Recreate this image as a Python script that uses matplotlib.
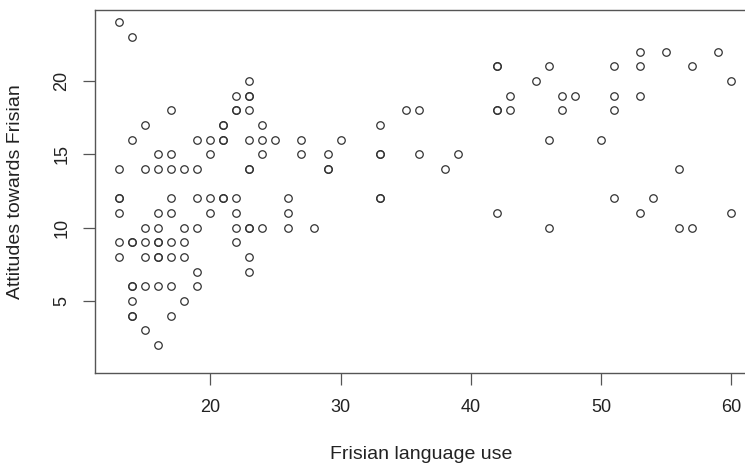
import matplotlib
matplotlib.use("Agg")
import matplotlib.pyplot as plt

# Frisian language use (x) vs attitudes towards Frisian (y)
language_use = [
    13, 13, 13, 13, 13, 13, 13,
    14, 14, 14, 14, 14, 14, 14, 14, 14,
    15, 15, 15, 15, 15, 15, 15,
    16, 16, 16, 16, 16, 16, 16, 16, 16, 16,
    17, 17, 17, 17, 17, 17, 17, 17, 17,
    18, 18, 18, 18, 18,
    19, 19, 19, 19, 19, 19,
    20, 20, 20, 20,
    21, 21, 21, 21, 21, 21,
    22, 22, 22, 22, 22, 22, 22,
    23, 23, 23, 23, 23, 23, 23, 23, 23, 23, 23,
    24, 24, 24, 24,
    25,
    26, 26, 26,
    27, 27,
    28,
    29, 29, 29,
    30,
    33, 33, 33, 33, 33,
    35,
    36, 36,
    38,
    39,
    42, 42, 42, 42, 42,
    43, 43,
    45,
    46, 46, 46,
    47, 47,
    48,
    50,
    51, 51, 51, 51,
    53, 53, 53, 53,
    54,
    55,
    56, 56,
    57, 57,
    59,
    60, 60,
]
attitudes = [
    24, 14, 12, 12, 11, 9, 8,
    23, 16, 9, 9, 6, 6, 5, 4, 4,
    17, 14, 10, 9, 8, 6, 3,
    15, 14, 11, 10, 9, 9, 8, 8, 6, 2,
    18, 15, 14, 12, 11, 9, 8, 6, 4,
    14, 10, 9, 8, 5,
    16, 14, 12, 10, 7, 6,
    16, 15, 12, 11,
    17, 17, 16, 16, 12, 12,
    19, 18, 18, 12, 11, 10, 9,
    20, 19, 19, 18, 16, 14, 14, 10, 10, 8, 7,
    17, 16, 15, 10,
    16,
    12, 11, 10,
    16, 15,
    10,
    15, 14, 14,
    16,
    17, 15, 15, 12, 12,
    18,
    18, 15,
    14,
    15,
    21, 21, 18, 18, 11,
    19, 18,
    20,
    21, 16, 10,
    19, 18,
    19,
    16,
    21, 19, 18, 12,
    22, 21, 19, 11,
    12,
    22,
    14, 10,
    21, 10,
    22,
    20, 11,
]

x_ticks = [20, 30, 40, 50, 60]
y_ticks = [5, 10, 15, 20]

plt.rcParams.update({
    "font.family": ["Liberation Sans", "DejaVu Sans"],
    "font.size": 14,
})

fig = plt.figure(figsize=(7.45, 4.67), dpi=100)
# axes box runs a little past the right edge, like the cropped original
ax = fig.add_axes([94.5 / 745, 94.3 / 467, 661.5 / 745, 362.4 / 467])

ax.plot(language_use, attitudes, linestyle="none", marker="o",
        markersize=5.4, markerfacecolor="none", markeredgecolor="#333333",
        markeredgewidth=0.9)

ax.set_xlim(11.12, 61.88)
ax.set_ylim(0.12, 24.82)
ax.set_xticks(x_ticks)
ax.set_yticks(y_ticks)
ax.tick_params(direction="out", length=8.5, width=0.9, color="#555555",
               labelcolor="#222222", labelsize=13)
ax.tick_params(axis="x", pad=10.5)
ax.tick_params(axis="y", pad=9)
for lab in ax.get_yticklabels():
    lab.set_rotation(90)
    lab.set_va("center")

for sp in ax.spines.values():
    sp.set_color("#555555")
    sp.set_linewidth(1.0)

ax.set_xlabel("Frisian language use", color="#222222")
ax.set_ylabel("Attitudes towards Frisian", color="#222222")
ax.xaxis.set_label_coords(0.494, -0.203)
ax.yaxis.set_label_coords(-0.106, 0.5)

fig.savefig("out.png", dpi=100)
